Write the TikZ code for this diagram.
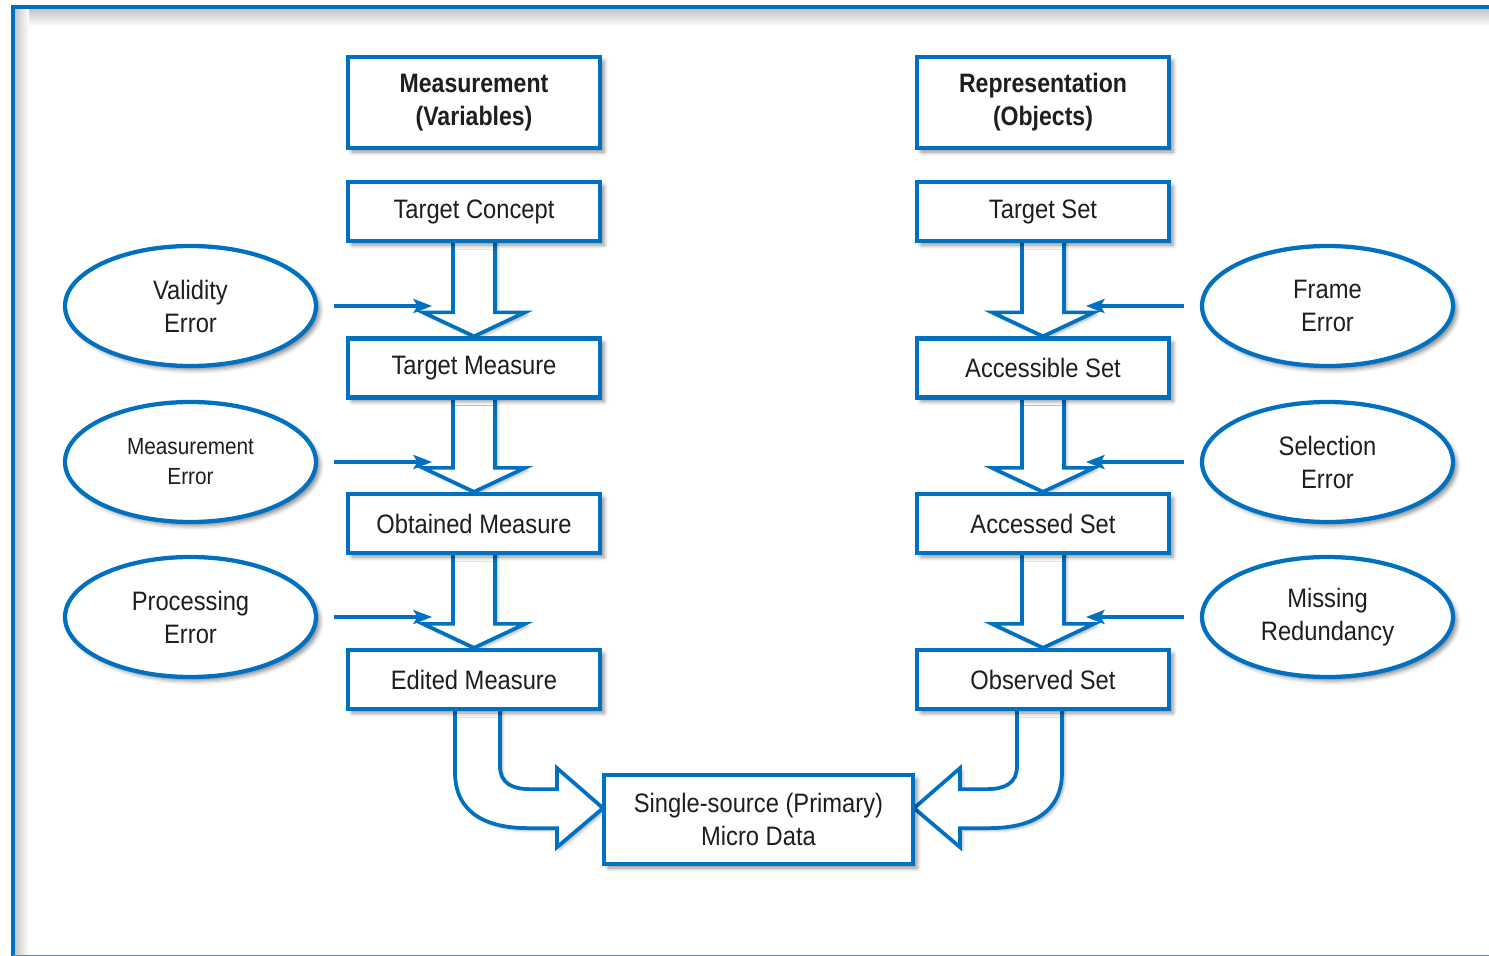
\documentclass[tikz,border=0pt]{standalone}
\usepackage{fontspec}
\setmainfont{Liberation Sans}[FakeStretch=0.89, BoldFeatures={FakeStretch=0.865}]
\usetikzlibrary{shapes.geometric,arrows.meta,calc,shadows.blur,fadings}
\definecolor{mblue}{RGB}{0,112,192}
\definecolor{txt}{RGB}{30,30,30}
\pgfdeclarelayer{bg}
\pgfsetlayers{bg,main}
\tikzset{
  shad/.style={blur shadow={shadow xshift=3pt, shadow yshift=-3pt, shadow blur radius=3pt, shadow opacity=45}},
  box/.style={draw=mblue, line width=3.2pt, fill=white, minimum width=189pt, minimum height=44.25pt,
    inner sep=0pt, align=center, text=txt, font=\fontsize{20}{24.75}\selectfont, shad},
  titlebox/.style={box, minimum height=68.25pt, font=\fontsize{20}{24.75}\selectfont\bfseries},
  err/.style={ellipse, draw=mblue, line width=3.2pt, fill=white, minimum width=188.25pt, minimum height=90pt,
    inner sep=0pt, align=center, text=txt, font=\fontsize{20}{24.75}\selectfont, shad},
  blockarr/.style={draw=mblue, line width=2.8pt, fill=white, line join=miter,
    blur shadow={shadow xshift=2pt, shadow yshift=-2pt, shadow blur radius=2pt, shadow opacity=30}},
  smallarr/.style={draw=mblue, line width=2.6pt, -{Stealth[length=14pt,width=10.5pt,inset=3pt]}}
}
\begin{document}
\begin{tikzpicture}[x=0.75pt,y=-0.75pt]
\useasboundingbox (0,0) rectangle (1489,956);
% outer frame with inner shadow
\fill[top color=black!22, bottom color=white] (15,10) rectangle (1489,26);
\fill[left color=black!22, right color=white] (15,10) rectangle (29,956);
\draw[mblue, line width=3pt] (13,960) -- (13,7.5) -- (1495,7.5);
\draw[color={rgb,255:red,110;green,135;blue,150}, line width=1pt] (13,955.3) -- (1495,955.3);

% boxes
\node[titlebox] (mv) at (474,102.5) {Measurement\\(Variables)};
\node[box] (tc) at (474,211.5) {Target Concept};
\node[box] (tm) at (474,368) {Target Measure};
\node[box] (om) at (474,523.5) {Obtained Measure};
\node[box] (em) at (474,679.5) {Edited Measure};

\node[titlebox] (ro) at (1043,102.5) {Representation\\(Objects)};
\node[box] (ts) at (1043,211.5) {Target Set};
\node[box] (as) at (1043,368) {Accessible Set};
\node[box] (acs) at (1043,523.5) {Accessed Set};
\node[box] (os) at (1043,679.5) {Observed Set};

\node[box, minimum width=231.75pt, minimum height=66.75pt] (sd) at (758.5,819.5) {Single-source (Primary)\\Micro Data};

% error ellipses
\node[err] (ve) at (190.5,306) {Validity\\Error};
\node[err, font=\fontsize{17.5}{22.5}\selectfont] (me) at (190.5,462) {Measurement\\Error};
\node[err] (pe) at (190.5,617) {Processing\\Error};
\node[err] (fe) at (1327.5,306) {Frame\\Error};
\node[err] (se) at (1327.5,462) {Selection\\Error};
\node[err] (mr) at (1327.5,617) {Missing\\Redundancy};

% block arrows (behind boxes)
\begin{pgfonlayer}{bg}
\foreach \a/\b in {tc/tm, tm/om, om/em, ts/as, as/acs, acs/os}{
  \draw[blockarr] ($(\a.south)+(-21,-6)$) -- ($(\b.north)+(-21,-24)$) -- ($(\b.north)+(-51,-24)$)
    -- (\b.north) -- ($(\b.north)+(51,-24)$) -- ($(\b.north)+(21,-24)$) -- ($(\a.south)+(21,-6)$);
}
\begin{scope}[shift={(em.south)}]
  \draw[blockarr] (-19,-6) -- (-19,61) .. controls (-19,103) and (14,117) .. (54,117) -- (83,117) -- (83,136)
    -- (129,97) -- (83,57) -- (83,78) -- (56,78) .. controls (38,78) and (26,72) .. (26,55) -- (26,-6);
\end{scope}
\begin{scope}[shift={(os.south)}]
  \draw[blockarr] (19,-6) -- (19,61) .. controls (19,103) and (-14,117) .. (-54,117) -- (-83,117) -- (-83,136)
    -- (-129,97) -- (-83,57) -- (-83,78) -- (-56,78) .. controls (-38,78) and (-26,72) .. (-26,55) -- (-26,-6);
\end{scope}
\end{pgfonlayer}

% error arrows
\foreach \e in {ve, me, pe}{
  \draw[smallarr] ($(\e.east)+(16,0)$) -- ($(\e.east)+(114,0)$);
}
\foreach \e in {fe, se, mr}{
  \draw[smallarr] ($(\e.west)+(-16,0)$) -- ($(\e.west)+(-114,0)$);
}
\end{tikzpicture}
\end{document}
